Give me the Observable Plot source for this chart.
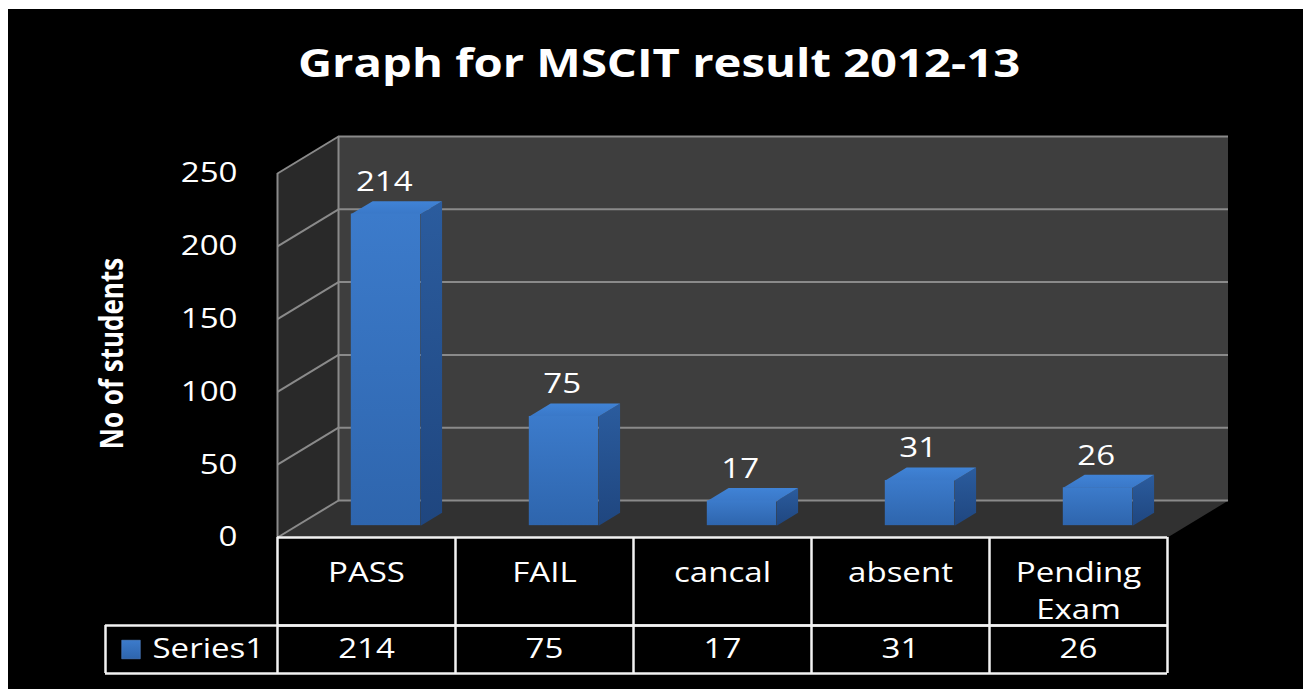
<!DOCTYPE html>
<html><head><meta charset="utf-8">
<script src="https://cdn.jsdelivr.net/npm/d3@7"></script>
<script src="https://cdn.jsdelivr.net/npm/@observablehq/plot@0.6"></script>
<style>
body{margin:0;background:#fff;}
#frame{position:absolute;left:8px;top:9px;width:1295px;height:680px;background:#000;overflow:hidden;}
#title{height:110px;box-sizing:border-box;padding-top:33px;text-align:center;color:#fff;font:700 40px/40px "Open Sans",sans-serif;}
#title span{display:inline-block;transform:scaleX(1.18);transform-origin:50% 50%;margin-left:8px;}
</style></head><body>
<div id="frame"><div id="title"><span>Graph for MSCIT result 2012-13</span></div><div id="chart"></div></div>
<script>
// ---- data ----
const categories = ["PASS", "FAIL", "cancal", "absent", "Pending\nExam"];
const values = [214, 75, 17, 31, 26];
const yTicks = [0, 50, 100, 150, 200, 250];
const seriesName = "Series1";
const yLabel = "No of students";

// ---- layout ----
const W = 1295, H = 570, mL = 269, mR = 136, mT = 54, mB = 152;
const yMax = 250, n = categories.length;
const pxX = (W - mL - mR) / n, pxY = (H - mT - mB) / yMax;
const DX = 61 / pxX, DY = 37 / pxY;       // full wall depth in data units
const f0 = 0.32, f1 = 0.67, hw = 0.195;    // bar depth placement and half width
const row1 = 88 / pxY, row2 = 48 / pxY;    // table rows
const legendLeft = -172 / pxX;

const bars = categories.map((c, i) => ({c, v: values[i], xc: i + 0.5, i}));

function poly(id, pts) { return pts.map(([x, y]) => ({id, x, y})); }
const sideWall = poly("side", [[0, 0], [0, yMax], [DX, yMax + DY], [DX, DY]]);
const floor = poly("floor", [[0, 0], [n, 0], [n + DX, DY], [DX, DY]]);
const topFaces = bars.flatMap(b => poly("t" + b.i, [
  [b.xc - hw + f0 * DX, b.v + f0 * DY], [b.xc + hw + f0 * DX, b.v + f0 * DY],
  [b.xc + hw + f1 * DX, b.v + f1 * DY], [b.xc - hw + f1 * DX, b.v + f1 * DY]]));
const sideFaces = bars.flatMap(b => poly("s" + b.i, [
  [b.xc + hw + f0 * DX, f0 * DY], [b.xc + hw + f0 * DX, b.v + f0 * DY],
  [b.xc + hw + f1 * DX, b.v + f1 * DY], [b.xc + hw + f1 * DX, f1 * DY]]));
const shadows = bars.flatMap(b => poly("sh" + b.i, [
  [b.xc + hw + f0 * DX, f0 * DY], [b.xc + hw + f1 * DX, f1 * DY],
  [b.xc + hw + f1 * DX + 0.22, f1 * DY - 2], [b.xc + hw + f0 * DX + 0.12, f0 * DY - 1]]));

const grid = "#8a8a8a";
const svg = Plot.plot({
  width: W, height: H,
  marginLeft: mL, marginRight: mR, marginTop: mT, marginBottom: mB,
  x: {type: "linear", domain: [0, n], axis: null},
  y: {type: "linear", domain: [0, yMax], axis: null},
  style: {background: "transparent", color: "#fff", fontFamily: "'Open Sans', sans-serif", fontSize: "28px", overflow: "visible"},
  marks: [
    // walls
    Plot.rect([0], {x1: DX, x2: n + DX, y1: DY, y2: yMax + DY, fill: "#3e3e3e"}),
    Plot.line(sideWall, {x: "x", y: "y", z: "id", fill: "#292929", stroke: "none", curve: "linear-closed"}),
    Plot.line(floor, {x: "x", y: "y", z: "id", fill: "#313131", stroke: "none", curve: "linear-closed"}),
    Plot.ruleY(yTicks, {y: d => d + DY, x1: DX, x2: n + DX, stroke: grid, strokeWidth: 2}),
    Plot.link(yTicks, {x1: 0, y1: d => d, x2: DX, y2: d => d + DY, stroke: grid, strokeWidth: 2}),
    Plot.ruleX([DX], {y1: DY, y2: yMax + DY, stroke: grid, strokeWidth: 2}),
    Plot.ruleX([0], {y1: 0, y2: yMax, stroke: grid, strokeWidth: 2}),
    // bars
    Plot.line(shadows, {x: "x", y: "y", z: "id", fill: "#000", fillOpacity: 0.5, stroke: "none", curve: "linear-closed", filter: "url(#blur)"}),
    Plot.line(sideFaces, {x: "x", y: "y", z: "id", fill: "url(#gSide)", stroke: "none", curve: "linear-closed"}),
    Plot.line(topFaces, {x: "x", y: "y", z: "id", fill: "url(#gTop)", stroke: "none", curve: "linear-closed"}),
    Plot.rect(bars, {x1: d => d.xc - hw + f0 * DX, x2: d => d.xc + hw + f0 * DX, y1: f0 * DY, y2: d => d.v + f0 * DY, fill: "url(#gFront)"}),
    Plot.text(bars, {x: d => d.xc + f0 * DX - 0.01, y: d => d.v + f0 * DY, dy: -32, text: d => String(d.v), fill: "#fff", fontSize: 28}),
    // y axis
    Plot.axisY({ticks: yTicks, tickSize: 0, tickPadding: 40, fontSize: 28, label: null, tickFormat: d => String(d)}),
    Plot.text([yLabel], {frameAnchor: "left", textAnchor: "middle", dx: -165, dy: -2, rotate: -90, fontWeight: "bold", fontSize: 26, fill: "#fff"}),
    // data table
    Plot.ruleY([0, -row1], {x1: 0, x2: n, stroke: "#f2f2f2", strokeWidth: 2.5}),
    Plot.ruleY([-row1, -row1 - row2], {x1: legendLeft, x2: n, stroke: "#f2f2f2", strokeWidth: 2.5}),
    Plot.ruleX(d3.range(n + 1), {y1: 0, y2: -row1, stroke: "#f2f2f2", strokeWidth: 2.5}),
    Plot.ruleX([legendLeft, ...d3.range(n + 1)], {y1: -row1, y2: -row1 - row2, stroke: "#f2f2f2", strokeWidth: 2.5}),
    Plot.text(bars, {x: "xc", y: 0, dy: 19, text: "c", lineAnchor: "top", lineHeight: 1.3, fontSize: 28, fill: "#fff"}),
    Plot.text(bars, {x: "xc", y: 0, dy: 112, text: d => String(d.v), fontSize: 28, fill: "#fff"}),
    Plot.dot([seriesName], {x: legendLeft + 25.5 / pxX, y: 0, dy: 112, symbol: "square", r: 10.5, fill: "url(#gFront)", stroke: "#5c8fd6", strokeWidth: 0.5}),
    Plot.text([seriesName], {x: legendLeft + 47 / pxX, y: 0, dy: 112, text: d => d, textAnchor: "start", fontSize: 28, fill: "#fff"})
  ]
});

const defs = d3.select(svg).insert("defs", ":first-child");
function grad(id, c0, c1) {
  const g = defs.append("linearGradient").attr("id", id).attr("x1", 0).attr("y1", 0).attr("x2", 0).attr("y2", 1);
  g.append("stop").attr("offset", "0%").attr("stop-color", c0);
  g.append("stop").attr("offset", "100%").attr("stop-color", c1);
}
grad("gFront", "#3c7bcb", "#2e65ad");
grad("gSide", "#2b5c9e", "#1f467f");
grad("gTop", "#4083d6", "#3a78c8");
defs.append("filter").attr("id", "blur").attr("x", "-50%").attr("y", "-50%").attr("width", "200%").attr("height", "200%")
  .append("feGaussianBlur").attr("stdDeviation", 3);

// horizontal stretch of glyphs to match the reference's wide lettering
function stretch(el, sx, sy) {
  const x = +el.getAttribute("x") || 0, y = +el.getAttribute("y") || 0;
  const t = el.getAttribute("transform") || "";
  el.setAttribute("transform", `${t} translate(${x},${y}) scale(${sx},${sy}) translate(${-x},${-y})`);
}
d3.select(svg).selectAll("text").each(function() {
  if (this.textContent === yLabel) stretch(this, 1, 1.22);
  else stretch(this, 1.18, 1);
});
document.getElementById("chart").appendChild(svg);
</script>
</body></html>
